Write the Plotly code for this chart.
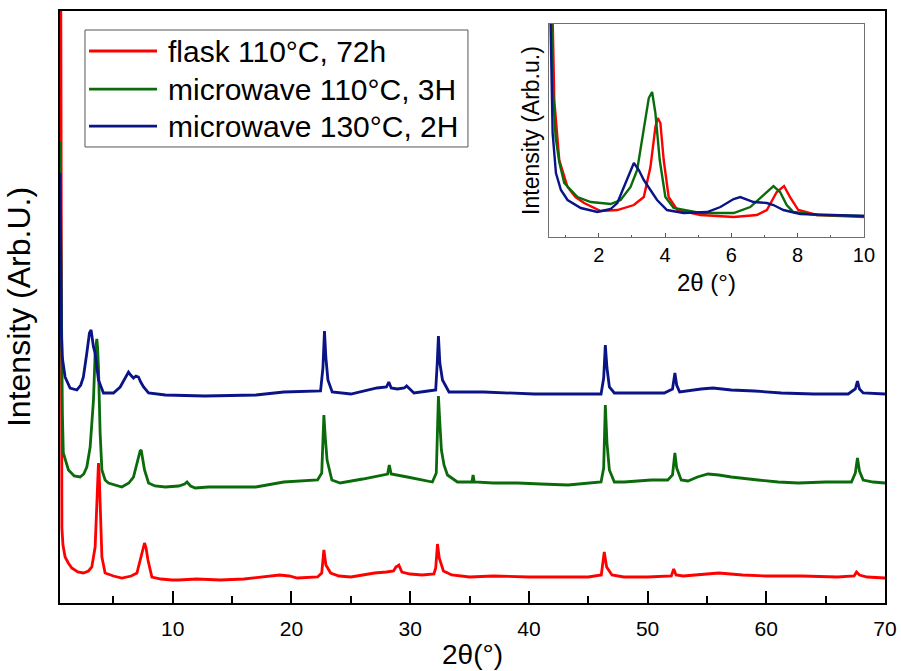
import plotly.graph_objects as go

# ---------------- data ----------------
series_names = ["flask 110°C, 72h", "microwave 110°C, 3H", "microwave 130°C, 2H"]
series_colors = ["#ff0000", "#0b6b0b", "#0a1486"]

# main panel: 2theta (deg), stacked intensity (arb. u.)
red_main = [(0.5, 1000), (0.58, 300), (0.62, 120), (0.66, 75), (0.75, 58), (0.93, 46), (1.2, 40), (1.49, 35),
            (2.0, 31), (2.47, 30), (2.9, 32), (3.18, 36), (3.46, 56), (3.6, 95), (3.69, 125),
            (3.74, 140), (3.8, 130), (3.88, 103), (4.03, 46), (4.3, 30), (5.0, 27), (5.71, 25),
            (6.5, 27), (6.98, 30), (7.34, 46), (7.5, 55), (7.62, 60), (7.75, 55), (7.91, 43),
            (8.24, 26), (9.0, 24), (9.93, 23), (10.5, 23), (12, 24), (14, 23), (16, 24),
            (17.5, 26), (19, 28), (19.8, 27), (20.5, 25), (22.2, 26), (22.55, 30), (22.73, 53),
            (22.9, 38), (23.3, 30), (24, 27), (25, 26), (26, 28), (27, 30), (28, 31), (28.6, 32),
            (28.8, 36), (29.05, 38), (29.3, 31), (30, 29), (31, 28), (32, 29), (32.15, 35),
            (32.3, 59), (32.45, 45), (32.8, 32), (33.5, 28), (35, 26), (37, 27), (40, 26),
            (43, 26), (45, 26), (46.1, 28), (46.35, 51), (46.55, 36), (47, 28), (48, 26),
            (50, 26), (52.0, 27), (52.2, 34), (52.4, 28), (53, 27), (55, 29), (56, 30), (58, 28),
            (60, 27), (63, 27), (66, 26), (67.4, 27), (67.6, 31), (67.85, 28), (68.5, 26), (70, 25)]

green_main = [(0.5, 461), (0.6, 300), (0.7, 190), (0.78, 150), (1.0, 140), (1.21, 133), (1.7, 127),
              (2.19, 126), (2.5, 129), (2.76, 136), (3.04, 156), (3.32, 203), (3.46, 250),
              (3.55, 262), (3.6, 264), (3.67, 255), (3.74, 236), (3.88, 170), (4.03, 133),
              (4.3, 123), (4.58, 120), (5.71, 116), (6.3, 120), (6.69, 126), (7.11, 146),
              (7.25, 152), (7.34, 153), (7.45, 145), (7.62, 133), (7.96, 120), (8.5, 117),
              (9.37, 116), (10.5, 117), (11.0, 119), (11.2, 121), (11.5, 117), (11.9, 115),
              (13, 116), (14.7, 116), (17, 116), (19.35, 121), (21, 122), (22.2, 123),
              (22.55, 130), (22.73, 188), (22.85, 165), (23.0, 143), (23.4, 123), (24.1, 120),
              (26, 124), (27.8, 128), (28.1, 129), (28.24, 138), (28.4, 129), (29.76, 126),
              (31.0, 123), (31.87, 121), (32.2, 130), (32.38, 207), (32.5, 180), (32.63, 153),
              (32.85, 138), (33.14, 128), (33.98, 121), (35.2, 121), (35.3, 128), (35.4, 121),
              (37, 120), (39.05, 120), (41, 119), (43.3, 118), (46.08, 121), (46.3, 135),
              (46.44, 198), (46.58, 160), (46.78, 133), (47.2, 121), (48.04, 121), (50.3, 123),
              (51.7, 123), (52.1, 128), (52.3, 150), (52.45, 135), (52.83, 123), (53.4, 122),
              (54.2, 126), (55.08, 129), (56, 128), (57.05, 126), (59.3, 123), (61, 121),
              (62.7, 120), (65, 121), (67.17, 121), (67.5, 130), (67.68, 145), (67.85, 132),
              (68.16, 123), (69, 121), (70, 120)]

blue_main = [(0.5, 430), (0.55, 330), (0.62, 270), (0.7, 245), (0.93, 226), (1.35, 215), (1.92, 213),
             (2.25, 218), (2.47, 226), (2.76, 250), (2.98, 270), (3.12, 273), (3.22, 262),
             (3.32, 256), (3.46, 250), (3.6, 235), (3.74, 223), (4.16, 210), (5.0, 210),
             (5.57, 216), (5.99, 226), (6.27, 231), (6.45, 228), (6.69, 225), (6.9, 227),
             (7.11, 226), (7.3, 221), (7.54, 216), (7.96, 210), (9.37, 208), (12.7, 207),
             (17, 208), (19.35, 211), (22.45, 212), (22.65, 235), (22.78, 272), (22.9, 245),
             (23.07, 223), (23.43, 211), (25, 209), (27.2, 215), (28.0, 216), (28.2, 221),
             (28.4, 215), (28.92, 214), (29.5, 215), (29.7, 217), (30.32, 210), (31.5, 212),
             (32.15, 213), (32.28, 240), (32.38, 267), (32.5, 240), (32.72, 223), (33.27, 211),
             (36.2, 211), (40.45, 209), (43, 209), (46.08, 209), (46.3, 225), (46.44, 258),
             (46.58, 235), (46.78, 216), (47.2, 210), (50, 210), (51.4, 210), (52.1, 214),
             (52.3, 230), (52.45, 218), (52.7, 211), (54.5, 214), (55.5, 215), (57.05, 213),
             (59, 212), (61.27, 210), (64, 209), (66.9, 209), (67.5, 214), (67.68, 222),
             (67.85, 214), (68.16, 210), (70, 209)]

# inset: low-angle region, unstacked
red_inset = [(0.5, 400), (0.6, 230), (0.66, 137), (0.81, 77), (1.06, 50), (1.3, 40), (1.56, 34),
             (2.06, 26), (2.56, 27), (3.06, 32), (3.36, 40), (3.56, 70), (3.71, 110), (3.78, 119),
             (3.86, 114), (3.96, 77), (4.11, 40), (4.37, 27), (5.07, 22), (6.07, 20), (6.77, 22),
             (7.07, 27), (7.37, 45), (7.59, 51), (7.77, 40), (8.02, 27), (8.58, 22), (9.3, 21),
             (10, 20)]
green_inset = [(0.5, 400), (0.6, 160), (0.7, 100), (0.81, 75), (0.96, 54), (1.36, 40), (1.76, 35),
               (2.36, 33), (2.66, 37), (2.96, 50), (3.16, 67), (3.36, 110), (3.51, 139),
               (3.61, 145), (3.71, 124), (3.84, 77), (4.01, 40), (4.26, 29), (5.07, 24),
               (6.07, 24), (6.57, 30), (6.97, 42), (7.27, 51), (7.47, 45), (7.67, 32), (7.87, 25),
               (8.58, 22), (10, 21)]
blue_inset = [(0.5, 300), (0.57, 160), (0.61, 104), (0.71, 64), (0.86, 47), (1.06, 37), (1.46, 29),
              (1.96, 25), (2.36, 28), (2.56, 34), (2.76, 50), (2.96, 67), (3.06, 74), (3.21, 67),
              (3.36, 57), (3.56, 47), (3.76, 37), (4.06, 27), (4.56, 24), (5.27, 25), (5.67, 30),
              (6.07, 38), (6.27, 40), (6.67, 35), (7.07, 34), (7.27, 32), (7.57, 27), (8.08, 23),
              (9.08, 22), (10, 21)]

main_ticks = [10, 20, 30, 40, 50, 60, 70]
inset_ticks = [2, 4, 6, 8, 10]

FONT = "Arial, Liberation Sans, sans-serif"

fig = go.Figure()

for data, name, col in zip([red_main, green_main, blue_main], series_names, series_colors):
    xs, ys = zip(*data)
    fig.add_trace(go.Scatter(x=xs, y=ys, mode="lines", name=name,
                             line=dict(color=col, width=2.8), showlegend=False,
                             xaxis="x", yaxis="y"))

for data, name, col in zip([red_inset, green_inset, blue_inset], series_names, series_colors):
    xs, ys = zip(*data)
    fig.add_trace(go.Scatter(x=xs, y=ys, mode="lines", name=name,
                             line=dict(color=col, width=2.4), showlegend=False,
                             xaxis="x2", yaxis="y2"))

# ---------------- custom legend (Origin-style long line samples) ----------------
leg_x0, leg_x1, leg_y0, leg_y1 = 0.0303, 0.4945, 0.7703, 0.9679
fig.add_shape(type="rect", xref="paper", yref="paper", x0=leg_x0, x1=leg_x1, y0=leg_y0, y1=leg_y1,
              line=dict(color="#555555", width=1), fillcolor="white", layer="above")
row_y = [0.9324, 0.8682, 0.8057]
for name, col, ry in zip(series_names, series_colors, row_y):
    fig.add_shape(type="line", xref="paper", yref="paper", x0=0.0352, x1=0.1176, y0=ry, y1=ry,
                  line=dict(color=col, width=2.8), layer="above")
    fig.add_annotation(xref="paper", yref="paper", x=0.1285, y=ry, text=name, showarrow=False,
                       xanchor="left", yanchor="middle", font=dict(family=FONT, size=30, color="black"))

# inset x-axis title placed just under its tick labels
fig.add_annotation(xref="x2 domain", yref="paper", x=0.5, y=0.5659, text="2θ (°)", showarrow=False,
                   xanchor="center", yanchor="top", borderpad=0,
                   font=dict(family=FONT, size=24, color="black"))

fig.update_layout(
    width=901, height=671,
    margin=dict(l=60, r=16, t=11, b=68, autoexpand=False),
    paper_bgcolor="white", plot_bgcolor="white",
    font=dict(family=FONT, color="black"),
    showlegend=False,
    xaxis=dict(domain=[0, 1], range=[0.5, 70], showgrid=False, zeroline=False, automargin=False,
               showline=True, linecolor="black", linewidth=2, mirror=True,
               ticks="inside", ticklen=12, tickwidth=2, tickcolor="black",
               tickvals=main_ticks, ticktext=[str(t) for t in main_ticks],
               tickfont=dict(size=21), ticklabelstandoff=6,
               minor=dict(ticks="inside", dtick=5, tick0=0, ticklen=7, tickwidth=2, tickcolor="black"),
               title=dict(text="2θ(°)", font=dict(size=28), standoff=5)),
    yaxis=dict(domain=[0, 1], range=[0, 592], showgrid=False, zeroline=False, automargin=False,
               showline=True, linecolor="black", linewidth=2, mirror=True,
               ticks="", showticklabels=False,
               title=dict(text="Intensity (Arb.U.)", font=dict(size=32), standoff=18)),
    xaxis2=dict(domain=[0.5927, 0.9745], anchor="y2", range=[0.5, 10], showgrid=False, zeroline=False,
                automargin=False,
                showline=True, linecolor="#707070", linewidth=1, mirror=True,
                ticks="inside", ticklen=4, tickwidth=1, tickcolor="#555555",
                tickvals=inset_ticks, ticktext=[str(t) for t in inset_ticks],
                tickfont=dict(size=20), ticklabelstandoff=0,
                minor=dict(ticks="inside", dtick=1, tick0=0, ticklen=2, tickwidth=1, tickcolor="#555555")),
    yaxis2=dict(domain=[0.6182, 0.978], anchor="x2", range=[0, 213], showgrid=False, zeroline=False,
                automargin=False,
                showline=True, linecolor="#707070", linewidth=1, mirror=True,
                ticks="", showticklabels=False,
                title=dict(text="Intensity (Arb.u.)", font=dict(size=23), standoff=1)),
)

fig.write_html("out.html", config={"displayModeBar": False},
               post_script="document.body.style.margin='0';")
